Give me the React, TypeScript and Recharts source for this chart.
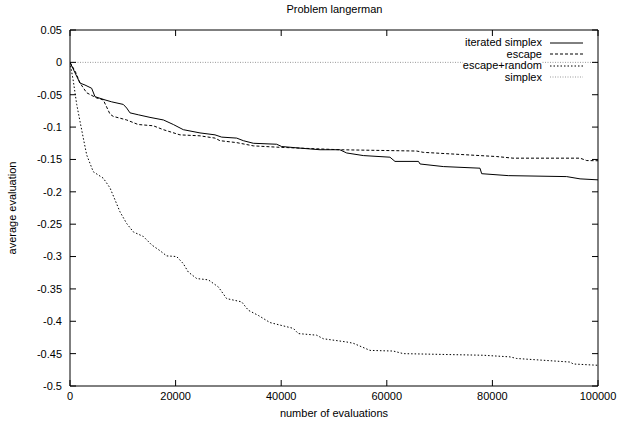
import { LineChart, Line, XAxis, YAxis } from "recharts";

// [evaluations, average evaluation]
const iteratedSimplex: [number, number][] = [
  [0, 0], [1890, -0.032], [2840, -0.035], [4100, -0.04], [4730, -0.053], [6630, -0.058],
  [7900, -0.061], [10100, -0.065], [10740, -0.0706], [11360, -0.078], [12940, -0.081],
  [15150, -0.085], [17700, -0.089], [19570, -0.096], [21460, -0.104], [24620, -0.109],
  [27460, -0.112], [28730, -0.1155], [31570, -0.117], [32830, -0.121], [34720, -0.125],
  [39140, -0.1265], [40090, -0.13], [43560, -0.1325], [47350, -0.135], [51100, -0.135],
  [52400, -0.14], [55550, -0.144], [60600, -0.1465], [61550, -0.153], [66000, -0.153],
  [66300, -0.157], [70700, -0.161], [77650, -0.1635], [77970, -0.172], [83000, -0.175],
  [94070, -0.1765], [96600, -0.18], [100000, -0.1815],
];

const escape: [number, number][] = [
  [0, 0], [1000, -0.014], [1900, -0.032], [3160, -0.047], [5050, -0.055], [6300, -0.058],
  [7580, -0.08], [8200, -0.0835], [10740, -0.089], [12900, -0.096], [15780, -0.098],
  [17680, -0.104], [20830, -0.112], [24620, -0.1135], [27460, -0.117], [28400, -0.121],
  [31570, -0.124], [34720, -0.129], [39140, -0.131], [43560, -0.1325], [51100, -0.135],
  [65660, -0.137], [66900, -0.139], [80800, -0.1455], [83900, -0.148], [96600, -0.148],
  [97860, -0.1517], [100000, -0.152],
];

const escapeRandom: [number, number][] = [
  [0, 0], [630, -0.029], [1270, -0.065], [1890, -0.091], [2520, -0.117], [3160, -0.143],
  [4410, -0.169], [6310, -0.179], [7580, -0.194], [8500, -0.212], [9470, -0.231],
  [10740, -0.249], [12000, -0.262], [13890, -0.269], [15470, -0.282], [17050, -0.291],
  [18310, -0.299], [20200, -0.3], [21460, -0.311], [22410, -0.324], [24000, -0.334],
  [26200, -0.336], [28100, -0.347], [29670, -0.365], [32510, -0.37], [33780, -0.383],
  [35670, -0.391], [37880, -0.402], [42300, -0.411], [43240, -0.419], [46710, -0.4215],
  [47970, -0.427], [52400, -0.432], [53660, -0.434], [56820, -0.445], [61230, -0.446],
  [63130, -0.45], [78280, -0.4525], [83330, -0.455], [84600, -0.4575], [94700, -0.463],
  [95330, -0.466], [100000, -0.468],
];

const simplex: [number, number][] = [
  [0, 0], [100000, 0],
];

const xTicks = [0, 20000, 40000, 60000, 80000, 100000];
const yTicks = [0.05, 0, -0.05, -0.1, -0.15, -0.2, -0.25, -0.3, -0.35, -0.4, -0.45, -0.5];

// simplex sits on the top/right axes so the mirrored border axes get drawn
const series = [
  { name: "iterated simplex", points: iteratedSimplex, stroke: "#000", dash: undefined, xId: "b", yId: "l" },
  { name: "escape", points: escape, stroke: "#000", dash: "3 2", xId: "b", yId: "l" },
  { name: "escape+random", points: escapeRandom, stroke: "#000", dash: "1.5 2", xId: "b", yId: "l" },
  { name: "simplex", points: simplex, stroke: "#999", dash: "1 1.5", xId: "t", yId: "r" },
];

const FONT = "'Liberation Sans', Arial, sans-serif";
const W = 619;
const H = 432;
// plot area: x 70..598, y 30..386 (axes take 1px each)
const margin = { top: 29, right: 20, bottom: 45, left: 69 };
const tickFont = { fontSize: 11, fill: "#000", fontFamily: FONT };
const line = { stroke: "#000" };

const fmtY = (v: number) => String(Number(v.toFixed(2)));
const blank = () => "";

export default function App() {
  return (
    <div style={{ position: "absolute", left: 0, top: 0, width: W, height: H, background: "#fff", fontFamily: FONT }}>
      <LineChart width={W} height={H} margin={margin}>
        <XAxis
          xAxisId="b"
          type="number"
          dataKey="x"
          domain={[0, 100000]}
          ticks={xTicks}
          height={1}
          tickSize={-6}
          tickMargin={12}
          axisLine={line}
          tickLine={line}
          tick={tickFont}
          allowDataOverflow
        />
        <XAxis
          xAxisId="t"
          orientation="top"
          type="number"
          dataKey="x"
          domain={[0, 100000]}
          ticks={xTicks}
          height={1}
          tickSize={-6}
          axisLine={line}
          tickLine={line}
          tickFormatter={blank}
          allowDataOverflow
        />
        <YAxis
          yAxisId="l"
          type="number"
          domain={[-0.5, 0.05]}
          ticks={yTicks}
          width={1}
          tickSize={-6}
          tickMargin={14}
          axisLine={line}
          tickLine={line}
          tick={tickFont}
          tickFormatter={fmtY}
          allowDataOverflow
        />
        <YAxis
          yAxisId="r"
          orientation="right"
          type="number"
          domain={[-0.5, 0.05]}
          ticks={yTicks}
          width={1}
          tickSize={-6}
          axisLine={line}
          tickLine={line}
          tickFormatter={blank}
          allowDataOverflow
        />
        {series.map((s) => (
          <Line
            key={s.name}
            xAxisId={s.xId}
            yAxisId={s.yId}
            name={s.name}
            data={s.points.map(([x, y]) => ({ x, y }))}
            dataKey="y"
            type="linear"
            stroke={s.stroke}
            strokeWidth={1}
            strokeDasharray={s.dash}
            dot={false}
            activeDot={false}
            isAnimationActive={false}
          />
        ))}
      </LineChart>

      <div style={{ position: "absolute", left: 0, width: W, top: 3, textAlign: "center", fontSize: 11, paddingLeft: 50, boxSizing: "border-box" }}>
        Problem langerman
      </div>
      <div style={{ position: "absolute", left: 70, width: 528, top: 407, textAlign: "center", fontSize: 11 }}>
        number of evaluations
      </div>
      <div
        style={{
          position: "absolute",
          left: 12,
          top: 208,
          fontSize: 11,
          whiteSpace: "nowrap",
          transform: "translate(-50%, -50%) rotate(-90deg)",
        }}
      >
        average evaluation
      </div>

      <div style={{ position: "absolute", top: 37, right: 36, fontSize: 11, lineHeight: "11.5px" }}>
        {series.map((s) => (
          <div key={s.name} style={{ display: "flex", alignItems: "center", justifyContent: "flex-end" }}>
            <span style={{ background: "#fff" }}>{s.name}</span>
            <svg width={41} height={10}>
              <line x1={8} x2={41} y1={5} y2={5} stroke={s.stroke} strokeDasharray={s.dash} />
            </svg>
          </div>
        ))}
      </div>
    </div>
  );
}
